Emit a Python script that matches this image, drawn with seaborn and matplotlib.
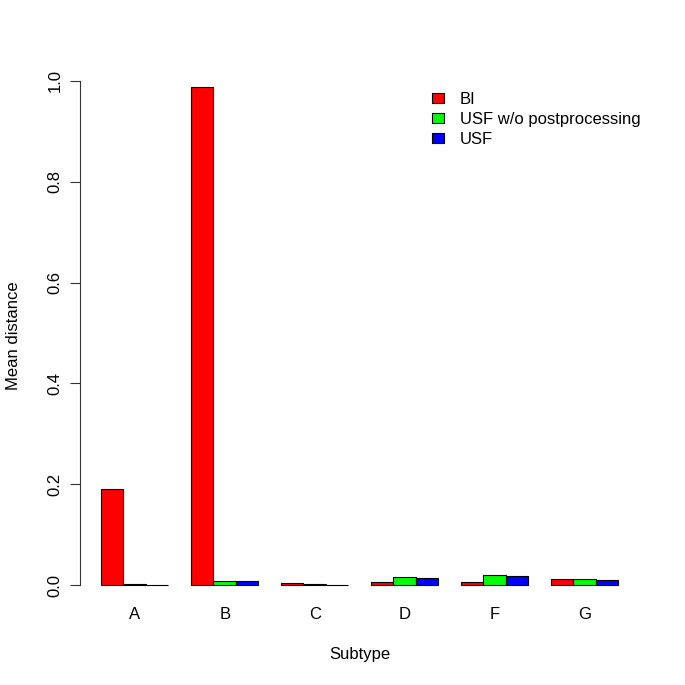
import matplotlib
matplotlib.use("Agg")
import matplotlib.pyplot as plt
from matplotlib.patches import Patch
import seaborn as sns
import pandas as pd

subtypes = ["A", "B", "C", "D", "F", "G"]
methods = ["BI", "USF w/o postprocessing", "USF"]
bi = [0.190, 0.988, 0.0035, 0.0065, 0.006, 0.012]
usf_wo = [0.0015, 0.008, 0.002, 0.016, 0.020, 0.012]
usf = [0.001, 0.008, 0.001, 0.014, 0.018, 0.010]
colors = ["#FF0000", "#00FF00", "#0000FF"]
yticks = [0.0, 0.2, 0.4, 0.6, 0.8, 1.0]

rows = []
for m, vals in zip(methods, [bi, usf_wo, usf]):
    for s, v in zip(subtypes, vals):
        rows.append({"Subtype": s, "Method": m, "Mean distance": v})
df = pd.DataFrame(rows)

sns.set_style("white")
plt.rcParams["font.family"] = ["Liberation Sans", "DejaVu Sans"]
plt.rcParams["text.color"] = "black"
plt.rcParams["xtick.color"] = "black"
plt.rcParams["ytick.color"] = "black"
plt.rcParams["xtick.labelcolor"] = "black"
plt.rcParams["ytick.labelcolor"] = "black"

FS = 12
fig = plt.figure(figsize=(6.85, 6.85), dpi=100)
W = H = 685.0
left, right, bottom, top = 80.3, 639.0, 605.2, 60.8
ax = fig.add_axes([left / W, 1 - bottom / H, (right - left) / W, (bottom - top) / H])

sns.barplot(data=df, x="Subtype", y="Mean distance", hue="Method",
            hue_order=methods, order=subtypes, palette=colors,
            width=0.75, gap=0, edgecolor="black", linewidth=0.8,
            saturation=1, ax=ax, legend=False, errorbar=None)

ax.set_xlim(-0.605, 5.605)
ax.set_ylim(-0.04, 1.04)
for sp in ["top", "right", "bottom"]:
    ax.spines[sp].set_visible(False)
ax.spines["left"].set_bounds(0, 1)
ax.spines["left"].set_color("#333333")
ax.spines["left"].set_linewidth(0.8)

ax.set_yticks(yticks)
ax.set_yticklabels([f"{t:.1f}" for t in yticks], rotation=90, va="center", fontsize=FS)
ax.tick_params(axis="y", length=7.2, width=0.8, color="#333333", pad=5.5, left=True)
ax.tick_params(axis="x", length=0, pad=1.0, labelsize=FS)
ax.set_xlabel("")
ax.set_ylabel("")

fig.text(14 / W, 1 - 336 / H, "Mean distance", rotation=90, ha="center", va="center",
         fontsize=FS, color="black")
fig.text(360 / W, 1 - 655 / H, "Subtype", ha="center", va="center", fontsize=FS, color="black")

handles = [Patch(facecolor=c, edgecolor="black", linewidth=0.8) for c in colors]
leg = ax.legend(handles, methods, loc="upper left", bbox_to_anchor=(432.5 / W, 1 - 92 / H),
                bbox_transform=fig.transFigure, frameon=False, fontsize=FS,
                handlelength=0.7, handleheight=0.55, handletextpad=0.95,
                labelspacing=0.30, borderpad=0, borderaxespad=0)
for t in leg.get_texts():
    t.set_color("black")

fig.savefig("out.png", dpi=100, facecolor="white")
